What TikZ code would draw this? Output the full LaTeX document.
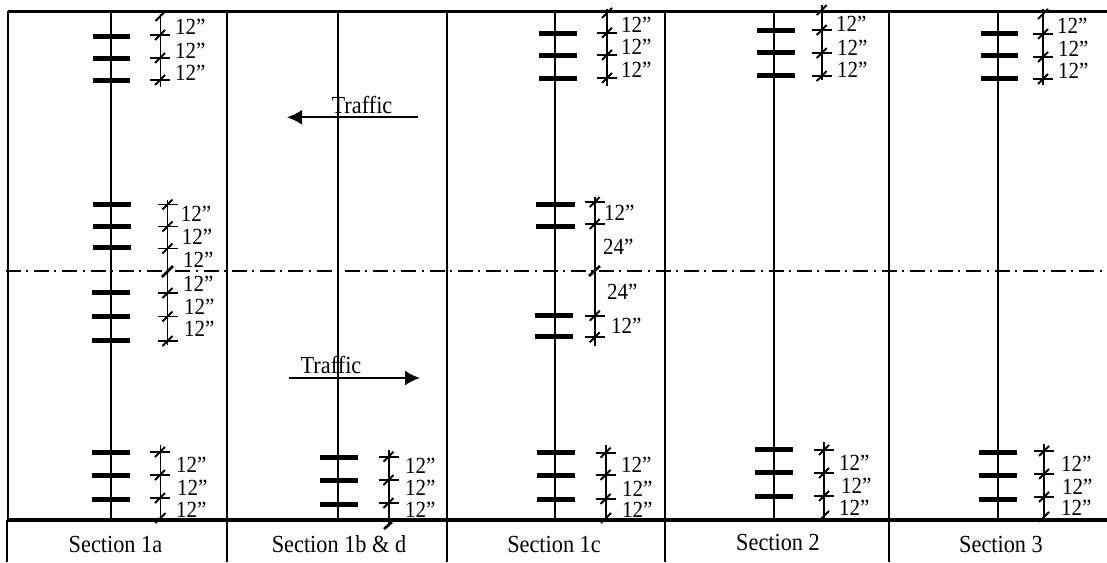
\documentclass[tikz,border=0pt]{standalone}
\usepackage{fontspec}
\setmainfont{Liberation Serif}
\usetikzlibrary{arrows.meta}
\tikzset{
  x=1pt,y=-1pt,
  rail/.style={line width=2.3pt,black},
  heavy/.style={line width=3.8pt,black},
  tie/.style={line width=5pt,black},
  dim/.style={line width=1.9pt,black},
  lab/.style={anchor=west,inner sep=0pt,font=\fontsize{21}{21}\selectfont},
  sect/.style={anchor=center,inner sep=0pt,font=\fontsize{22.3}{22}\selectfont},
  center line/.style={line width=1.6pt,black,dash pattern=on 15pt off 5.25pt on 2pt off 6pt},
  traffic/.style={line width=2pt,black,-{Latex[length=15pt,width=15pt]}},
}
\newcommand{\tk}[2]{% x, y
  \draw[dim] (#1-10,#2) -- (#1+10,#2);
  \draw[dim] (#1-5,#2+5) -- (#1+5,#2-5);}
\newcommand{\slsh}[2]{\draw[dim] (#1-5,#2+5) -- (#1+5,#2-5);}
\newcommand{\ties}[3]{\foreach \yy in {#3} \draw[tie] (#1,\yy) -- (#2,\yy);}
\newcommand{\lb}[3]{\node[lab] at (#1,#2) {\scalebox{1}[1.1]{#3}};}
\begin{document}
\begin{tikzpicture}
\useasboundingbox (0,0) rectangle (1107,562);
\fill[white] (0,0) rectangle (1107,562);
% vertical section lines
\draw[rail] (8,11) -- (8,520);
\draw[rail] (7,520) -- (7,562);
\foreach \x in {227,447,665,889} \draw[rail] (\x,11) -- (\x,562);
% centre rails
\foreach \x in {111,338,555,774,998} \draw[rail] (\x,11) -- (\x,520);
% centre line
\draw[center line] (5.75,271) -- (1107,271);
% heavy lines
\draw[heavy] (8,11.5) -- (1107,11.5);
\draw[heavy] (7,520) -- (1107,520);
% ties
\ties{92.5}{130}{36,58,80}
\ties{93}{131}{204.3,226.3,247.7}
\ties{92}{130}{292.3,316.3,340.3}
\ties{91.5}{129.5}{452.3,475,499}
\ties{320}{358}{457.3,480.3,504}
\ties{539}{577}{33.3,55,78}
\ties{536}{575}{204.3,226.7}
\ties{535}{573}{315.7,336.7}
\ties{537}{575}{452.3,475,499}
\ties{757}{795}{30.7,52.7,75.3}
\ties{755}{793}{449.7,472.7,496.3}
\ties{980.7}{1018}{33.3,55.3,78}
\ties{979.3}{1017}{452.3,475,499.3}
% dimension lines
\draw[dim] (160.5,14) -- (160.5,87);
\foreach \y in {35,58,80} {\tk{160}{\y}}
\slsh{160.5}{16}
\draw[dim] (167.5,200) -- (167.5,345);
\foreach \y in {204.5,226.5,248.5,293,316.5,341} {\tk{167.5}{\y}}
\draw[line width=2.6pt] (162,277) -- (173,266);
\draw[dim] (160.5,445) -- (160.5,522);
\foreach \y in {452,475,498} {\tk{160}{\y}}
\slsh{160.5}{518}
\draw[dim] (389,450) -- (389,525);
\foreach \y in {456.7,480,503} {\tk{388.5}{\y}}
\draw[line width=2.6pt] (384,529) -- (392,522);
\draw[dim] (607,9) -- (607,86);
\foreach \y in {32.7,55,78} {\tk{607}{\y}}
\slsh{607}{13}
\draw[dim] (594.7,197) -- (594.7,346);
\foreach \y in {202,224,315.7,337.3} {\tk{594.7}{\y}}
\draw[line width=2.6pt] (589,276) -- (600,266);
\draw[dim] (606,445) -- (606,521);
\foreach \y in {452.7,475,499} {\tk{605.5}{\y}}
\slsh{606}{518}
\draw[dim] (821.7,5) -- (821.7,80);
\foreach \y in {30,53,76} {\tk{821.7}{\y}}
\slsh{821.7}{10}
\draw[dim] (1043,9) -- (1043,85);
\foreach \y in {34,57,79} {\tk{1043}{\y}}
\slsh{1043}{14}
\draw[dim] (824,442) -- (824,518);
\foreach \y in {450,473,496} {\tk{824}{\y}}
\slsh{824}{516}
\draw[dim] (1044,444) -- (1044,520);
\foreach \y in {451,474,497} {\tk{1044}{\y}}
\slsh{1044}{517}
% labels
\lb{175}{27}{12”}\lb{175}{51}{12”}\lb{175}{73}{12”}
\lb{180.7}{214}{12”}\lb{181.7}{236.7}{12”}\lb{183}{260}{12”}
\lb{183}{284}{12”}\lb{184}{307}{12”}\lb{184}{329}{12”}
\lb{176}{465}{12”}\lb{177}{488}{12”}\lb{176}{510}{12”}
\lb{405}{466}{12”}\lb{405}{488}{12”}\lb{405}{510}{12”}
\lb{621}{25}{12”}\lb{621}{47}{12”}\lb{621}{70}{12”}
\lb{604}{213}{12”}\lb{603}{247}{24”}\lb{607}{292}{24”}\lb{611}{326}{12”}
\lb{621}{465}{12”}\lb{622}{489}{12”}\lb{622}{510}{12”}
\lb{836}{24}{12”}\lb{837}{48}{12”}\lb{837}{70}{12”}
\lb{1057}{26}{12”}\lb{1058}{49}{12”}\lb{1058}{71}{12”}
\lb{839}{463}{12”}\lb{841}{486}{12”}\lb{839}{508}{12”}
\lb{1061}{464}{12”}\lb{1062}{487}{12”}\lb{1061}{508}{12”}
% traffic
\coordinate (ta) at (418,117.3);
\coordinate (tb) at (287,117.3);
\coordinate (tc) at (289,378);
\coordinate (td) at (420,378);
\draw[traffic] (ta) -- (tb);
\draw[traffic] (tc) -- (td);
\node[sect] (t1) at (362,105) {\scalebox{1}[1.1]{Traffic}};
\node[sect] (t2) at (331,365) {\scalebox{1}[1.1]{Traffic}};
% section names
\node[sect] (s1) at (115.5,544) {\scalebox{1}[1.1]{Section 1a}};
\node[sect] (s2) at (339,544) {\scalebox{1}[1.1]{Section 1b \& d}};
\node[sect] (s3) at (554,544) {\scalebox{1}[1.1]{Section 1c}};
\node[sect] (s4) at (778,542.7) {\scalebox{1}[1.1]{Section 2}};
\node[sect] (s5) at (1001,544) {\scalebox{1}[1.1]{Section 3}};
\end{tikzpicture}
\end{document}
